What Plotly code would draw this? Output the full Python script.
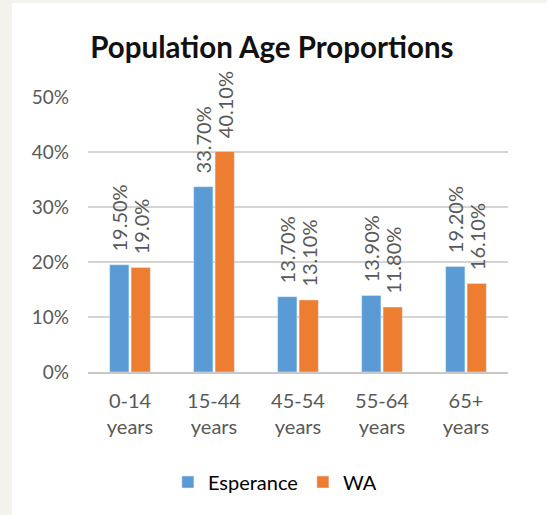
import plotly.graph_objects as go

categories = ["0-14<br>years", "15-44<br>years", "45-54<br>years", "55-64<br>years", "65+<br>years"]
esperance = [0.195, 0.337, 0.137, 0.139, 0.192]
wa = [0.190, 0.401, 0.131, 0.118, 0.161]
esperance_labels = ["19.50%", "33.70%", "13.70%", "13.90%", "19.20%"]
wa_labels = ["19.0%", "40.10%", "13.10%", "11.80%", "16.10%"]
y_ticks = [0, 0.1, 0.2, 0.3, 0.4, 0.5]
y_ticktext = ["0%", "10%", "20%", "30%", "40%", "50%"]

FONT = "Lato"
label_font = dict(family=FONT, size=20, color="#595959")
PAD = "\u00a0\u00a0"

fig = go.Figure()
fig.add_trace(go.Bar(
    name="Esperance", x=categories, y=esperance, text=[PAD + s for s in esperance_labels],
    marker_color="#5B9BD5", textposition="outside", textangle=-90,
    textfont=label_font, cliponaxis=False, constraintext="none",
))
fig.add_trace(go.Bar(
    name="WA", x=categories, y=wa, text=[PAD + s for s in wa_labels],
    marker_color="#ED7D31", textposition="outside", textangle=-90,
    textfont=label_font, cliponaxis=False, constraintext="none",
))

fig.update_layout(
    width=547, height=515,
    margin=dict(l=88, r=39, t=97, b=143),
    paper_bgcolor="white", plot_bgcolor="white",
    barmode="group", bargap=0.49, bargroupgap=0.1,
    title=dict(text="<b>Population Age Proportions</b>", x=0.497, xanchor="center",
               y=1 - 48 / 515, yanchor="middle",
               font=dict(family=FONT, size=29.5, color="#111111")),
    font=dict(family=FONT, color="#595959"),
    xaxis=dict(showgrid=False, showline=True, linecolor="#c8c8c8", linewidth=1.5,
               tickfont=dict(family=FONT, size=20, color="#595959"),
               ticks="", ticklabelstandoff=10),
    yaxis=dict(range=[0, 0.5], tickvals=y_ticks, ticktext=y_ticktext,
               showgrid=True, gridcolor="#d4d4d4", gridwidth=1.5, zeroline=False,
               tickfont=dict(family=FONT, size=19, color="#595959"),
               ticks="", ticklabelstandoff=18),
    legend=dict(orientation="h", x=0.445, xanchor="center", y=-0.4, yanchor="middle",
                font=dict(family=FONT, size=20, color="#000000"), traceorder="normal"),
    shapes=[dict(type="rect", xref="paper", yref="paper",
                 x0=-88 / 420, x1=-76 / 420, y0=-143 / 275, y1=1 + 97 / 275,
                 fillcolor="#f3f2ed", line=dict(width=0), layer="below"),
            dict(type="rect", xref="paper", yref="paper",
                 x0=-88 / 420, x1=1 + 39 / 420, y0=1 + 94 / 275, y1=1 + 97 / 275,
                 fillcolor="#f3f2ed", line=dict(width=0), layer="below")],
)

fig.write_html("out.html")
